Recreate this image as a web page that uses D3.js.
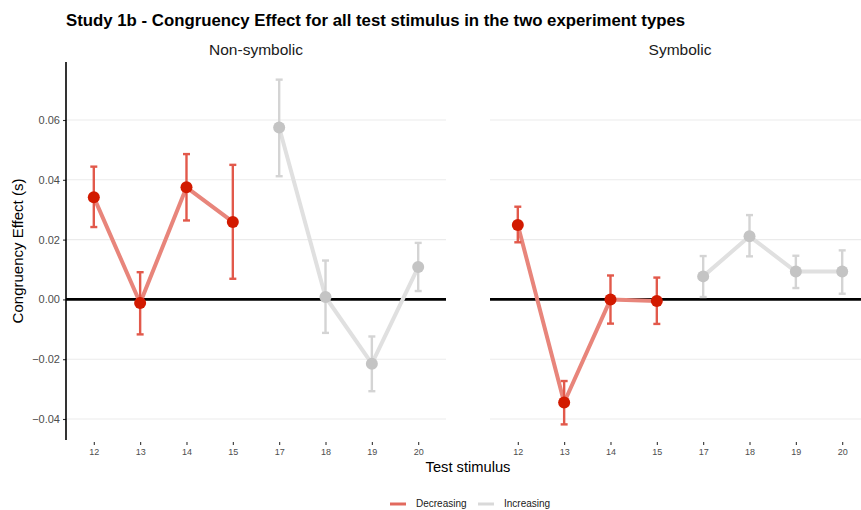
<!DOCTYPE html>
<html>
<head>
<meta charset="utf-8">
<script src="https://cdn.jsdelivr.net/npm/d3@7"></script>
<style>
  body { margin: 0; background: #fff; }
  svg { display: block; font-family: "Liberation Sans", Arial, sans-serif; }
</style>
</head>
<body>
<svg id="chart" width="861" height="510"></svg>
<script>
// Test stimuli shown on the x axis (discrete)
const stimuli = ["12", "13", "14", "15", "17", "18", "19", "20"];
const panels = ["Non-symbolic", "Symbolic"];
const groups = ["Decreasing", "Increasing"];
// Stimuli belonging to each group
const decreasingStimuli = ["12", "13", "14", "15"];
const increasingStimuli = ["17", "18", "19", "20"];

// Mean congruency effect (s) per stimulus
const nonSymbolicMean  = [0.0342, -0.0012, 0.0375, 0.0259, 0.0575, 0.0008, -0.0215, 0.0108];
const nonSymbolicLower = [0.0242, -0.0117, 0.0264, 0.0069, 0.0412, -0.0112, -0.0307, 0.0028];
const nonSymbolicUpper = [0.0444, 0.0091, 0.0486, 0.0450, 0.0735, 0.0130, -0.0124, 0.0189];

const symbolicMean  = [0.0249, -0.0345, 0.0000, -0.0005, 0.0077, 0.0211, 0.0093, 0.0093];
const symbolicLower = [0.0191, -0.0418, -0.0081, -0.0082, 0.0008, 0.0144, 0.0038, 0.0019];
const symbolicUpper = [0.0310, -0.0273, 0.0080, 0.0073, 0.0145, 0.0282, 0.0146, 0.0164];

const yTicks = [-0.04, -0.02, 0.00, 0.02, 0.04, 0.06];

const panelData = {
  "Non-symbolic": { mean: nonSymbolicMean, lower: nonSymbolicLower, upper: nonSymbolicUpper },
  "Symbolic": { mean: symbolicMean, lower: symbolicLower, upper: symbolicUpper }
};

const colors = {
  Decreasing: { point: "#d21a00", line: "#e8857b", err: "#e2594b", key: "#e26a5e" },
  Increasing: { point: "#c4c4c4", line: "#e0e0e0", err: "#d4d4d4", key: "#d9d9d9" }
};

const svg = d3.select("#chart");

// Layout
const plotTop = 62, plotBottom = 440;
const panelX = { "Non-symbolic": [66, 446], "Symbolic": [490, 870] };

const y = d3.scaleLinear().domain([-0.04, 0.06]).range([419, 120]);

// Title
svg.append("text")
  .attr("x", 66).attr("y", 26)
  .attr("font-size", 16.8).attr("font-weight", "bold").attr("fill", "#000")
  .text("Study 1b - Congruency Effect for all test stimulus in the two experiment types");

panels.forEach(name => {
  const [x0, x1] = panelX[name];
  // discrete scale with 0.6 unit expansion on each side
  const unit = (x1 - x0) / (stimuli.length - 1 + 1.2);
  const x = d3.scalePoint().domain(stimuli)
    .range([x0 + 0.6 * unit, x1 - 0.6 * unit]);

  const g = svg.append("g");

  // strip label
  g.append("text")
    .attr("x", (x0 + x1) / 2).attr("y", 55)
    .attr("text-anchor", "middle").attr("font-size", 15.5).attr("fill", "#1a1a1a")
    .text(name);

  // horizontal gridlines
  g.selectAll(".grid").data(yTicks).enter().append("line")
    .attr("x1", x0).attr("x2", x1)
    .attr("y1", d => y(d)).attr("y2", d => y(d))
    .attr("stroke", "#ebebeb").attr("stroke-width", 1.1);

  // zero reference line
  g.append("line")
    .attr("x1", x0).attr("x2", x1)
    .attr("y1", y(0)).attr("y2", y(0))
    .attr("stroke", "#000").attr("stroke-width", 2.6);

  // x axis: ticks and labels, no domain line
  const xAxis = d3.axisBottom(x).tickSize(3).tickPadding(4);
  const ax = g.append("g").attr("transform", `translate(0,${plotBottom + 2})`).call(xAxis);
  ax.select(".domain").remove();
  ax.selectAll(".tick line").attr("stroke", "#333").attr("stroke-width", 1.1);
  ax.selectAll(".tick text").attr("font-size", 9).attr("fill", "#4d4d4d")
    .attr("font-family", "Liberation Sans, Arial, sans-serif");

  const d = panelData[name];
  const rows = stimuli.map((s, i) => ({
    s, mean: d.mean[i], lower: d.lower[i], upper: d.upper[i],
    group: decreasingStimuli.includes(s) ? "Decreasing" : "Increasing"
  }));

  groups.forEach(grp => {
    const gr = rows.filter(r => r.group === grp);
    const c = colors[grp];
    // connecting line
    g.append("path")
      .datum(gr)
      .attr("fill", "none").attr("stroke", c.line).attr("stroke-width", 4)
      .attr("stroke-linejoin", "round")
      .attr("d", d3.line().x(r => x(r.s)).y(r => y(r.mean)));
    // error bars
    const eb = g.append("g");
    eb.selectAll(".v").data(gr).enter().append("line")
      .attr("x1", r => x(r.s)).attr("x2", r => x(r.s))
      .attr("y1", r => y(r.lower)).attr("y2", r => y(r.upper))
      .attr("stroke", c.err).attr("stroke-width", 2.4);
    ["lower", "upper"].forEach(k => {
      eb.selectAll(".cap" + k).data(gr).enter().append("line")
        .attr("x1", r => x(r.s) - 3.5).attr("x2", r => x(r.s) + 3.5)
        .attr("y1", r => y(r[k])).attr("y2", r => y(r[k]))
        .attr("stroke", c.err).attr("stroke-width", 2.4);
    });
    // points
    g.selectAll(".pt" + grp).data(gr).enter().append("circle")
      .attr("cx", r => x(r.s)).attr("cy", r => y(r.mean)).attr("r", 6)
      .attr("fill", c.point);
  });
});

// y axis on the left panel
const yAxis = d3.axisLeft(y).tickValues(yTicks).tickFormat(d3.format(".2f")).tickSize(3).tickPadding(3);
const ya = svg.append("g").attr("transform", "translate(66,0)").call(yAxis);
ya.select(".domain").remove();
ya.selectAll(".tick line").attr("stroke", "#333").attr("stroke-width", 1.1);
ya.selectAll(".tick text").attr("font-size", 11).attr("fill", "#4d4d4d")
  .attr("font-family", "Liberation Sans, Arial, sans-serif");
svg.append("line")
  .attr("x1", 66).attr("x2", 66).attr("y1", plotTop).attr("y2", plotBottom)
  .attr("stroke", "#000").attr("stroke-width", 1.6);

// axis titles
svg.append("text")
  .attr("transform", `translate(23,${(plotTop + plotBottom) / 2}) rotate(-90)`)
  .attr("text-anchor", "middle").attr("font-size", 15).attr("fill", "#000")
  .text("Congruency Effect (s)");
svg.append("text")
  .attr("x", 468).attr("y", 472)
  .attr("text-anchor", "middle").attr("font-size", 14.7).attr("fill", "#000")
  .text("Test stimulus");

// legend
const legend = svg.append("g");
const legendItems = [
  { key: "Decreasing", x: 390 },
  { key: "Increasing", x: 478 }
];
legendItems.forEach(it => {
  legend.append("line")
    .attr("x1", it.x).attr("x2", it.x + 16).attr("y1", 504).attr("y2", 504)
    .attr("stroke", colors[it.key].key).attr("stroke-width", 3);
  legend.append("text")
    .attr("x", it.x + 26).attr("y", 507)
    .attr("font-size", 10).attr("fill", "#1a1a1a")
    .text(it.key);
});
</script>
</body>
</html>
